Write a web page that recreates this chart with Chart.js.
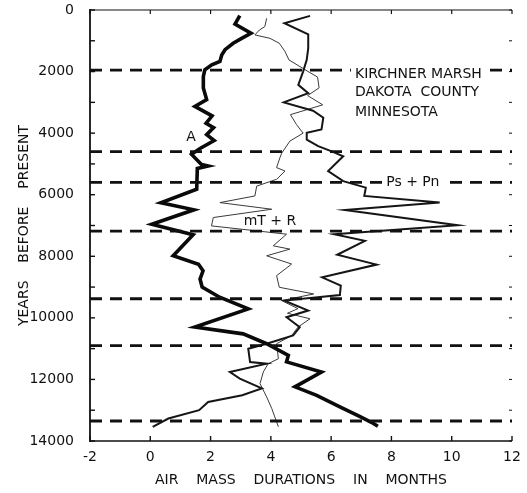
<!DOCTYPE html>
<html><head><meta charset="utf-8">
<script src="https://cdn.jsdelivr.net/npm/chart.js@4/dist/chart.umd.min.js"></script>
<style>html,body{margin:0;padding:0;background:#fff}</style>
</head><body>
<canvas id="c" width="527" height="493"></canvas>
<script>
// ---- tick labels ----
const xTickValues = [-2, 0, 2, 4, 6, 8, 10, 12];
const yTickValues = [0, 2000, 4000, 6000, 8000, 10000, 12000, 14000];
const yMinorTicks = [1000, 3000, 5000, 7000, 9000, 11000, 13000];

// ---- series: A (thick) ----
const yearsA = [180, 460, 755, 920, 1080, 1290, 1460, 1670, 1780, 1940, 2160, 2530, 2910, 3130, 3440, 3680, 3820, 4050, 4240, 4500, 4690, 5020, 5070, 5150, 5820, 6260, 6490, 6960, 7300, 7980, 8260, 8470, 8740, 9000, 9330, 9710, 10300, 10520, 10840, 11220, 11430, 11760, 12240, 12520, 12890, 13210, 13400, 13520];
const durA   = [2.97, 2.81, 3.34, 3.03, 2.75, 2.48, 2.37, 2.31, 2.04, 1.81, 1.76, 1.76, 1.87, 1.48, 2.05, 1.85, 2.1, 1.87, 2.12, 1.65, 1.37, 1.7, 1.92, 1.56, 1.54, 0.35, 1.45, 0.05, 1.42, 0.76, 1.6, 1.75, 1.65, 1.72, 2.3, 3.25, 1.48, 3.08, 3.86, 4.58, 4.52, 5.68, 4.80, 5.52, 6.29, 6.96, 7.35, 7.55];

// ---- series: Ps + Pn (medium) ----
const yearsP = [190, 430, 790, 1240, 1620, 2000, 2430, 2700, 3000, 3270, 3500, 3880, 3990, 4210, 4420, 4590, 4750, 5230, 5560, 5770, 6040, 6256, 6495, 6990, 7282, 7500, 7950, 8270, 8683, 8955, 9260, 9440, 9763, 9978, 10300, 10573, 10841, 11003, 11434, 11489, 11758, 11974, 12290, 12515, 12730, 13000, 13269, 13538];
const durP   = [5.30, 4.45, 5.24, 5.24, 5.19, 5.07, 4.91, 5.24, 4.43, 5.40, 5.74, 5.68, 5.19, 5.19, 5.57, 6.02, 6.40, 5.90, 6.40, 7.15, 7.10, 9.6, 6.46, 10.2, 6.1, 7.12, 6.2, 7.51, 5.7, 6.32, 6.29, 4.45, 5.24, 4.52, 4.96, 4.74, 3.86, 3.25, 3.31, 3.86, 2.64, 2.97, 3.7, 3.05, 1.92, 1.62, 0.6, 0.08];

// ---- series: mT + R (thin) ----
const yearsM = [270, 540, 650, 810, 920, 1080, 1350, 1620, 1890, 2180, 2530, 2780, 3080, 3400, 3720, 4000, 4260, 4650, 4800, 5120, 5230, 5500, 5720, 6040, 6256, 6472, 6741, 7013, 7282, 7660, 7767, 7984, 8252, 8630, 9007, 9223, 9440, 9700, 9850, 10030, 10300, 10573, 10841, 11327, 11489, 11758, 12136, 12567, 12945, 13538];
const durM   = [3.86, 3.80, 3.62, 3.47, 3.97, 4.28, 4.47, 4.60, 5.05, 5.55, 5.60, 5.22, 5.72, 4.65, 4.85, 5.07, 4.63, 4.36, 4.30, 4.19, 4.47, 4.19, 3.53, 3.47, 2.31, 4.03, 2.09, 2.03, 4.52, 4.08, 4.63, 3.86, 4.69, 4.19, 4.28, 5.42, 4.36, 4.9, 4.55, 5.30, 4.9, 4.69, 4.19, 4.25, 3.91, 3.75, 3.64, 3.86, 4.03, 4.25];

// ---- zone boundaries (dashed) ----
const boundaryYears = [1950, 4600, 5600, 7180, 9380, 10900, 13350];

// ---- text labels ----
const siteLines = ['KIRCHNER MARSH', 'DAKOTA  COUNTY', 'MINNESOTA'];
const seriesLabels = ['A', 'Ps + Pn', 'mT + R'];

const FONT = "'DejaVu Sans', sans-serif";
const INK = '#111';
const CLEAR = 'rgba(0,0,0,0)';
const pts = (ys, xs) => ys.map((y, i) => ({x: xs[i], y: y}));

const datasets = boundaryYears.map(yr => ({
  data: [{x: -2, y: yr}, {x: 12, y: yr}],
  borderColor: INK, borderWidth: 2.8, borderDash: [12, 8], pointRadius: 0, fill: false
}));
datasets.push({label: seriesLabels[0], data: pts(yearsA, durA), borderColor: '#0a0a0a', borderWidth: 3.6, pointRadius: 0, fill: false});
datasets.push({label: seriesLabels[1], data: pts(yearsP, durP), borderColor: '#151515', borderWidth: 2, pointRadius: 0, fill: false});
datasets.push({label: seriesLabels[2], data: pts(yearsM, durM), borderColor: '#3a3a3a', borderWidth: 1, pointRadius: 0, fill: false});

const framePlugin = {
  id: 'frame',
  afterDatasetsDraw(chart) {
    const {ctx, chartArea: {left, right, top, bottom}, scales: {x, y}} = chart;
    ctx.save();
    ctx.strokeStyle = INK;
    const seg = (x1, y1, x2, y2, w) => { ctx.lineWidth = w; ctx.beginPath(); ctx.moveTo(x1, y1); ctx.lineTo(x2, y2); ctx.stroke(); };
    seg(left, top - 1, left, bottom + 1, 1.8);
    seg(left, bottom, right, bottom, 1.6);
    seg(left, top, right, top, 1.2);
    xTickValues.forEach(v => { const px = x.getPixelForValue(v); seg(px, bottom, px, bottom - 5, 1.4); seg(px, top, px, top + 4, 1.2); });
    yTickValues.concat(yMinorTicks).forEach(v => { const py = y.getPixelForValue(v); seg(left, py, left + 5, py, 1.4); seg(right, py, right - 3, py, 1); });
    // site text with white background
    ctx.font = '14px ' + FONT;
    ctx.textBaseline = 'middle';
    ctx.textAlign = 'left';
    const sx = x.getPixelForValue(6.79);
    const siteYears = [2104, 2680, 3333];
    siteLines.forEach((t, i) => {
      const py = y.getPixelForValue(siteYears[i]);
      const w = ctx.measureText(t).width;
      ctx.fillStyle = '#fff'; ctx.fillRect(sx - 4, py - 8, w + 8, 16);
      ctx.fillStyle = INK; ctx.fillText(t, sx, py);
    });
    // series labels
    ctx.textAlign = 'center';
    ctx.fillStyle = INK;
    ctx.fillText(seriesLabels[0], x.getPixelForValue(1.35), y.getPixelForValue(4142));
    const pnx = x.getPixelForValue(8.71), pny = y.getPixelForValue(5600);
    const pw = ctx.measureText(seriesLabels[1]).width;
    ctx.fillStyle = '#fff'; ctx.fillRect(pnx - pw / 2 - 4, pny - 8, pw + 8, 16);
    ctx.fillStyle = INK; ctx.fillText(seriesLabels[1], pnx, pny);
    ctx.fillText(seriesLabels[2], x.getPixelForValue(3.97), y.getPixelForValue(6861));
    ctx.restore();
  }
};

new Chart(document.getElementById('c'), {
  type: 'line',
  data: {datasets: datasets},
  plugins: [framePlugin],
  options: {
    responsive: false, animation: false, devicePixelRatio: 1,
    layout: {padding: {left: 0, right: 15, top: 10, bottom: 0}},
    plugins: {legend: {display: false}, tooltip: {enabled: false}},
    elements: {line: {tension: 0}},
    scales: {
      x: {
        type: 'linear', position: 'bottom', min: -2, max: 12,
        afterBuildTicks: s => { s.ticks = xTickValues.map(v => ({value: v})); },
        afterFit: s => { s.height = 52; },
        grid: {display: true, drawOnChartArea: false, drawTicks: true, tickLength: 8, color: CLEAR}, border: {display: false},
        ticks: {padding: 0, color: INK, font: {family: FONT, size: 14}, maxRotation: 0, autoSkip: false, callback: v => String(v)},
        title: {display: true, text: 'AIR    MASS    DURATIONS    IN    MONTHS', color: INK, font: {family: FONT, size: 14}, padding: {top: 0, bottom: 4}}
      },
      y: {
        type: 'linear', position: 'left', reverse: true, min: 0, max: 14000,
        afterBuildTicks: s => { s.ticks = yTickValues.map(v => ({value: v})); },
        afterFit: s => { s.width = 90; },
        grid: {display: true, drawOnChartArea: false, drawTicks: true, tickLength: 16, color: CLEAR}, border: {display: false},
        ticks: {padding: 0, color: INK, font: {family: FONT, size: 14}, autoSkip: false, callback: v => String(v)},
        title: {display: true, text: 'YEARS    BEFORE    PRESENT', color: INK, font: {family: FONT, size: 14}, padding: {top: 16, bottom: 0}}
      }
    }
  }
});
</script>
</body></html>
